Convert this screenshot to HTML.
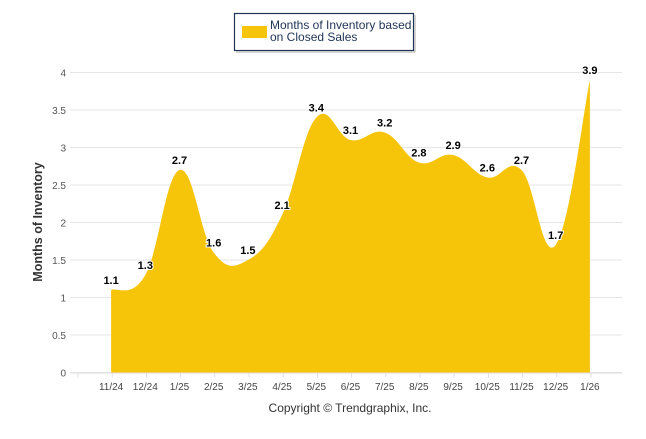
<!DOCTYPE html>
<html><head><meta charset="utf-8"><style>
body{margin:0;background:#fff;width:646px;height:434px;overflow:hidden}
svg text{font-family:"Liberation Sans",sans-serif}
</style></head><body>
<svg id="c" width="646" height="434">
<g>
<rect x="234.5" y="13.5" width="179" height="37" fill="#fff" stroke="#1f3354" stroke-width="1.2"/>
<rect x="414" y="15" width="2" height="37" fill="#aaa" opacity="0.5"/>
<rect x="236" y="51" width="179" height="2" fill="#aaa" opacity="0.5"/>
<rect x="242" y="26" width="25" height="12" fill="#f6c409"/>
<text x="270" y="29" font-size="12" fill="#1f3354">Months of Inventory based</text>
<text x="270" y="41" font-size="12" fill="#1f3354">on Closed Sales</text>
</g>
<g id="grid"></g>
<path id="area" fill="#f6c409"/>
<g id="labels"></g>
<g id="xaxis"></g>
<text transform="translate(42,222) rotate(-90)" text-anchor="middle" font-size="12.5" font-weight="bold" fill="#333">Months of Inventory</text>
<text x="350" y="412" text-anchor="middle" font-size="12" fill="#333">Copyright © Trendgraphix, Inc.</text>
</svg>
<script>
const categories=["11/24","12/24","1/25","2/25","3/25","4/25","5/25","6/25","7/25","8/25","9/25","10/25","11/25","12/25","1/26"];
const values=[1.1,1.3,2.7,1.6,1.5,2.1,3.4,3.1,3.2,2.8,2.9,2.6,2.7,1.7,3.9];
const yTicks=[0,0.5,1,1.5,2,2.5,3,3.5,4];
const NS="http://www.w3.org/2000/svg";
const x0=94,bw=34.2,yBase=372.5,ppu=75;
const X=i=>x0+bw*(i+0.5), Y=v=>yBase-v*ppu;
function mk(t,a,p){const e=document.createElementNS(NS,t);for(const k in a)e.setAttribute(k,a[k]);p.appendChild(e);return e;}
const grid=document.getElementById('grid');
yTicks.forEach(t=>{
 const l=mk('line',{x1:70,x2:622,y1:Y(t),y2:Y(t),stroke:'#e6e6e6'},grid);
 
 
 const tx=mk('text',{x:66,y:Y(t)+4,'text-anchor':'end','font-size':'10',fill:'#555'},grid);
 tx.textContent=t;
 
 
});
const xa=document.getElementById('xaxis');
mk('line',{x1:70,x2:622,y1:yBase+0.5,y2:yBase+0.5,stroke:'#ddd'},xa);
for(let i=0;i<=categories.length;i++){mk('line',{x1:x0+bw*i-16,x2:x0+bw*i-16,y1:yBase,y2:yBase+5,stroke:'#ddd'},xa);}
categories.forEach((c,i)=>{
 const t=mk('text',{x:X(i),y:390,'text-anchor':'middle','font-size':'10',fill:'#444'},xa);
 t.textContent=c;
 
 
});
const pts=values.map((v,i)=>[X(i),Y(v)]);
let d=`M${pts[0][0]},${yBase} L${pts[0][0]},${pts[0][1]}`;
const k=1/5;
for(let i=1;i<pts.length;i++){
 const p0=pts[i-2]||pts[i-1],p1=pts[i-1],p2=pts[i],p3=pts[i+1]||pts[i];
 const c1=[p1[0]+(p2[0]-p0[0])*k,p1[1]+(p2[1]-p0[1])*k];
 const c2=[p2[0]-(p3[0]-p1[0])*k,p2[1]-(p3[1]-p1[1])*k];
 d+=` C${c1[0]},${c1[1]} ${c2[0]},${c2[1]} ${p2[0]},${p2[1]}`;
}
d+=` L${pts[pts.length-1][0]},${yBase} Z`;
document.getElementById('area').setAttribute('d',d);
const lg=document.getElementById('labels');
values.forEach((v,i)=>{
 const t=mk('text',{x:X(i),y:Y(v)-6,'text-anchor':'middle','font-size':'11','font-weight':'bold',fill:'#000',stroke:'#fff','stroke-width':'2','paint-order':'stroke'},lg);
 t.textContent=v.toFixed(1);
 
 
});
</script>
</body></html>
